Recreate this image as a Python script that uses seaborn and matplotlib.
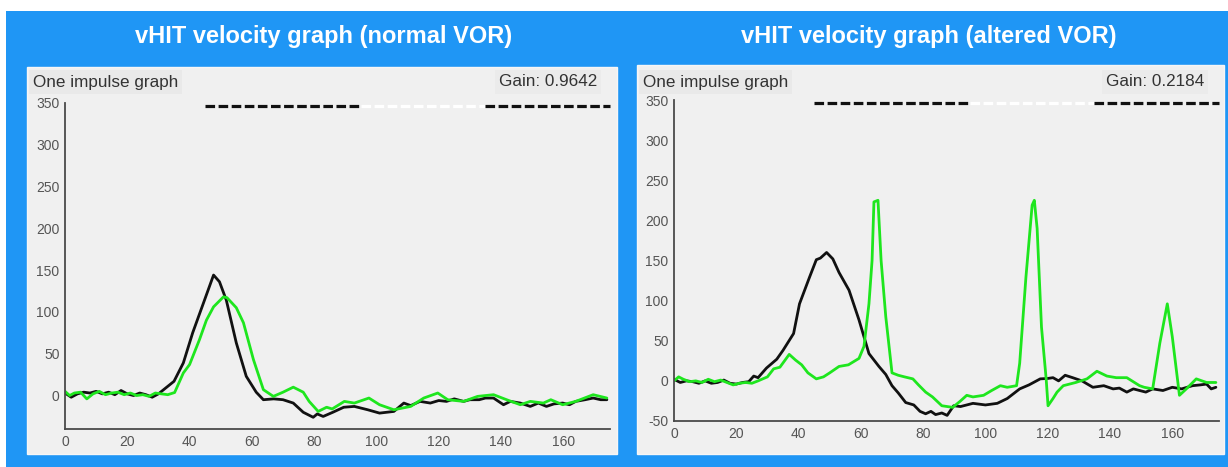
import matplotlib
matplotlib.use('Agg')
import matplotlib.pyplot as plt
from matplotlib.patches import Rectangle
import seaborn as sns
import warnings
warnings.filterwarnings('ignore')

# ── Data ──────────────────────────────────────────────────────────────────────
titles = ['vHIT velocity graph (normal VOR)', 'vHIT velocity graph (altered VOR)']
gains = ['Gain: 0.9642', 'Gain: 0.2184']

# normal VOR: head velocity (black)
normal_head_t = [0, 2, 4, 6, 8, 10, 12, 14, 16, 18, 20, 22, 24, 26, 28, 30, 32, 33, 35, 38,
                 41, 44.5, 47.7, 49.6, 51.8, 55, 58.2, 61.4, 63.7, 67, 70, 73.3, 76.5, 79.7, 81, 82.9,
                 86, 89.5, 92.9, 97.2, 101, 105.6, 108.8, 111, 114, 117.3, 120, 122.5, 125, 128, 130,
                 133, 135, 137.6, 140.8, 143, 146.2, 149.4, 152, 154.6, 157, 159.8, 162, 164, 167,
                 169.6, 172, 174]
normal_head_v = [3, -2, 2, 4, 3, 5, 2, 4, 1, 6, 2, 0, 3, 1, -2, 2, 8, 11, 17, 39,
                 75, 111, 144, 136, 114, 63, 23, 4, -5, -4, -5, -9, -20, -26, -22, -25,
                 -20, -14, -13, -17, -21, -19, -9, -12, -7, -9, -6, -7, -4, -7, -5,
                 -5, -3, -3, -11, -7, -9, -13, -9, -13, -10, -9, -11, -7, -5,
                 -3, -5, -5]

# normal VOR: eye velocity (green)
normal_eye_t = [0, 1.5, 3, 5, 7, 9, 11, 13, 15, 17, 19, 21, 23, 25, 27, 29, 31, 33, 35.2, 38,
                40, 43.2, 45.4, 47.7, 50.9, 52, 55, 57.3, 60.5, 63.7, 66.9, 70, 73.3, 76.5, 78.4,
                81.3, 84, 85.8, 89.7, 92.9, 97.6, 101, 105.6, 111, 115.2, 119.7, 122.9, 128, 132.5,
                137.6, 141.8, 146.2, 149.4, 153.6, 156, 159.8, 164, 169.6, 174]
normal_eye_v = [5, 0, 3, 4, -4, 2, 5, 1, 3, 4, 1, 3, 0, 1, -1, 3, 2, 1, 3.6, 27,
                37, 67, 90, 106, 118, 117, 105, 87, 43, 7, -1, 4, 10, 4, -7,
                -19, -14, -16, -7, -9, -3, -11, -17, -13, -3, 3, -5, -7, -1,
                1, -5, -11, -7, -9, -5, -11, -7, 1, -3]

# altered VOR: head velocity (black)
altered_head_t = [0, 2, 4, 6, 8, 10, 12, 14, 16, 18, 20, 22, 24, 25.6, 27, 29.7, 33, 35, 38.4, 40.3,
                  43.5, 45.7, 47, 49, 51, 53, 56.2, 59.4, 62.6, 65.8, 68, 70, 72, 74.4, 77, 79, 80.8,
                  82.5, 84, 86, 87.7, 89.8, 92, 96, 100, 103.8, 107, 111, 114, 117.6, 120, 121.7,
                  123.5, 125.6, 128, 131, 134.5, 138, 141, 143, 145.4, 147.5, 149.5, 151.5, 153.7,
                  157, 160, 163, 166.5, 169, 171, 172.5, 174]
altered_head_v = [2, -2, 0, -1, -3, 0, -3, -2, 1, -3, -4, -2, -1, 6, 4, 16, 27, 38, 59, 96,
                  129, 151, 153, 160, 152, 135, 113, 76, 34, 18, 8, -6, -15, -27, -30, -38, -41,
                  -38, -42, -40, -43, -31, -32, -28, -30, -28, -22, -10, -5, 2.5, 3, 4,
                  0, 7, 4, 0, -8, -6, -10, -9, -14, -10, -12, -14, -10,
                  -12, -8, -10, -6, -5, -4, -10, -8]

# altered VOR: eye velocity (green) with catch-up saccades
altered_eye_t = [0, 1.5, 3, 5, 7, 9, 11, 13, 15, 17, 19, 21, 23, 25, 27, 30, 32, 34, 37, 39,
                 41, 43, 45.7, 48, 50, 53, 56, 59.4, 61, 62.6, 63.6, 64.2, 65.5, 66.5, 68, 70, 72,
                 74, 76.7, 78.5, 80.8, 83, 86, 89.5, 92, 94, 96, 99.4, 102, 104.8, 107, 110, 111,
                 113, 115, 115.7, 116.6, 118, 119.5, 120.1, 121.7, 123, 125, 129, 132.6, 135.8,
                 139, 142, 145.4, 149.5, 151, 153.7, 156, 158.4, 160, 162.3, 164.5, 167.7, 171, 174]
altered_eye_v = [0, 5, 2, -1, 0, -2, 2, -1, 1, -2, -5, -3, -2, -3, 0, 5, 15, 17, 33, 26,
                 20, 10, 2.5, 5, 10, 18, 20, 28, 43, 96, 150, 223, 225, 150, 80, 10, 7,
                 5, 2.5, -5, -14, -20, -31, -33, -25, -18, -20, -18, -12, -6, -8, -6, 22,
                 129, 219, 225, 190, 67, 2.5, -31, -22, -14, -6, -2, 2.5, 12,
                 6, 4, 4, -6, -8, -10, 47, 96, 55, -18, -10, 2.5, -2, -2]

# head impulse marker bars along the top
bar_starts = [45, 95, 135]
bar_ends = [95, 135, 175]
bar_colors = ['#111111', '#ffffff', '#111111']

# ── Style ─────────────────────────────────────────────────────────────────────
sns.set_style('white')
plt.rcParams['font.family'] = ['Liberation Sans', 'DejaVu Sans']
plt.rcParams['axes.unicode_minus'] = False

W, H = 1228, 467
BLUE = '#1f96f5'
PANEL = '#f0f0f0'
GREEN = '#1ee61e'
AXIS = '#4a4a4a'


def box(x0, y0, x1, y1):
    # pixel box (top-left origin) -> figure fraction [l, b, w, h]
    return [x0 / W, 1 - y1 / H, (x1 - x0) / W, (y1 - y0) / H]


fig = plt.figure(figsize=(W / 100, H / 100), dpi=100)
fig.patch.set_facecolor('white')
fig.add_artist(Rectangle((6 / W, 0), 1, (H - 11) / H, transform=fig.transFigure,
                         facecolor=BLUE, edgecolor='none', zorder=0))

panels = [
    dict(panel=(27, 67, 617, 454), axes=(65, 102.7, 610, 429), ylim=(-40, 350),
         yticks=range(0, 351, 50), title_x=324,
         head=(normal_head_t, normal_head_v), eye=(normal_eye_t, normal_eye_v)),
    dict(panel=(637, 65, 1224, 454), axes=(674, 100, 1219, 421), ylim=(-50, 350),
         yticks=range(-50, 351, 50), title_x=929,
         head=(altered_head_t, altered_head_v), eye=(altered_eye_t, altered_eye_v)),
]

for i, p in enumerate(panels):
    px0, py0, px1, py1 = p['panel']
    fig.add_artist(Rectangle((px0 / W, 1 - py1 / H), (px1 - px0) / W, (py1 - py0) / H,
                             transform=fig.transFigure, facecolor=PANEL,
                             edgecolor='#f6f6f6', linewidth=1, zorder=1))

    # title in the blue band
    fig.text(p['title_x'] / W, 1 - 36 / H, titles[i], color='white', fontsize=17,
             fontweight='bold', ha='center', va='center')

    # header labels inside the gray panel
    fig.text((px0 + 6) / W, 1 - 82 / H, 'One impulse graph', color='#333333', fontsize=12.3,
             ha='left', va='center', zorder=3,
             bbox=dict(facecolor='#e9e9e9', edgecolor='none', pad=3))
    fig.text((px1 - 20) / W, 1 - 82 / H, gains[i], color='#333333', fontsize=12.3,
             ha='right', va='center', zorder=3,
             bbox=dict(facecolor='#ebebeb', edgecolor='none', pad=3))

    ax = fig.add_axes(box(*p['axes']))
    ax.set_zorder(2)
    ax.set_facecolor(PANEL)

    sns.lineplot(x=p['head'][0], y=p['head'][1], ax=ax, color='#111111', lw=2.0,
                 sort=False, estimator=None)
    sns.lineplot(x=p['eye'][0], y=p['eye'][1], ax=ax, color=GREEN, lw=2.0,
                 sort=False, estimator=None)

    for s, e, c in zip(bar_starts, bar_ends, bar_colors):
        ax.plot([s, e], [346, 346], color=c, lw=2.3, dashes=(3, 1.1),
                solid_capstyle='butt', dash_capstyle='butt', clip_on=False)

    ax.set_xlim(0, 175)
    ax.set_ylim(*p['ylim'])
    ax.set_xticks(range(0, 161, 20))
    ax.set_yticks(list(p['yticks']))
    ax.set_xlabel('')
    ax.set_ylabel('')

    for side in ['top', 'right']:
        ax.spines[side].set_visible(False)
    for side in ['left', 'bottom']:
        ax.spines[side].set_color(AXIS)
        ax.spines[side].set_linewidth(1.3)

    ax.tick_params(direction='in', length=3, width=1, color=AXIS, labelcolor='#555555',
                   labelsize=10, pad=4)
    for lab in ax.get_xticklabels() + ax.get_yticklabels():
        lab.set_family(['Liberation Sans Narrow', 'Liberation Sans', 'DejaVu Sans'])

plt.savefig('out.png', dpi=100)
plt.close()
